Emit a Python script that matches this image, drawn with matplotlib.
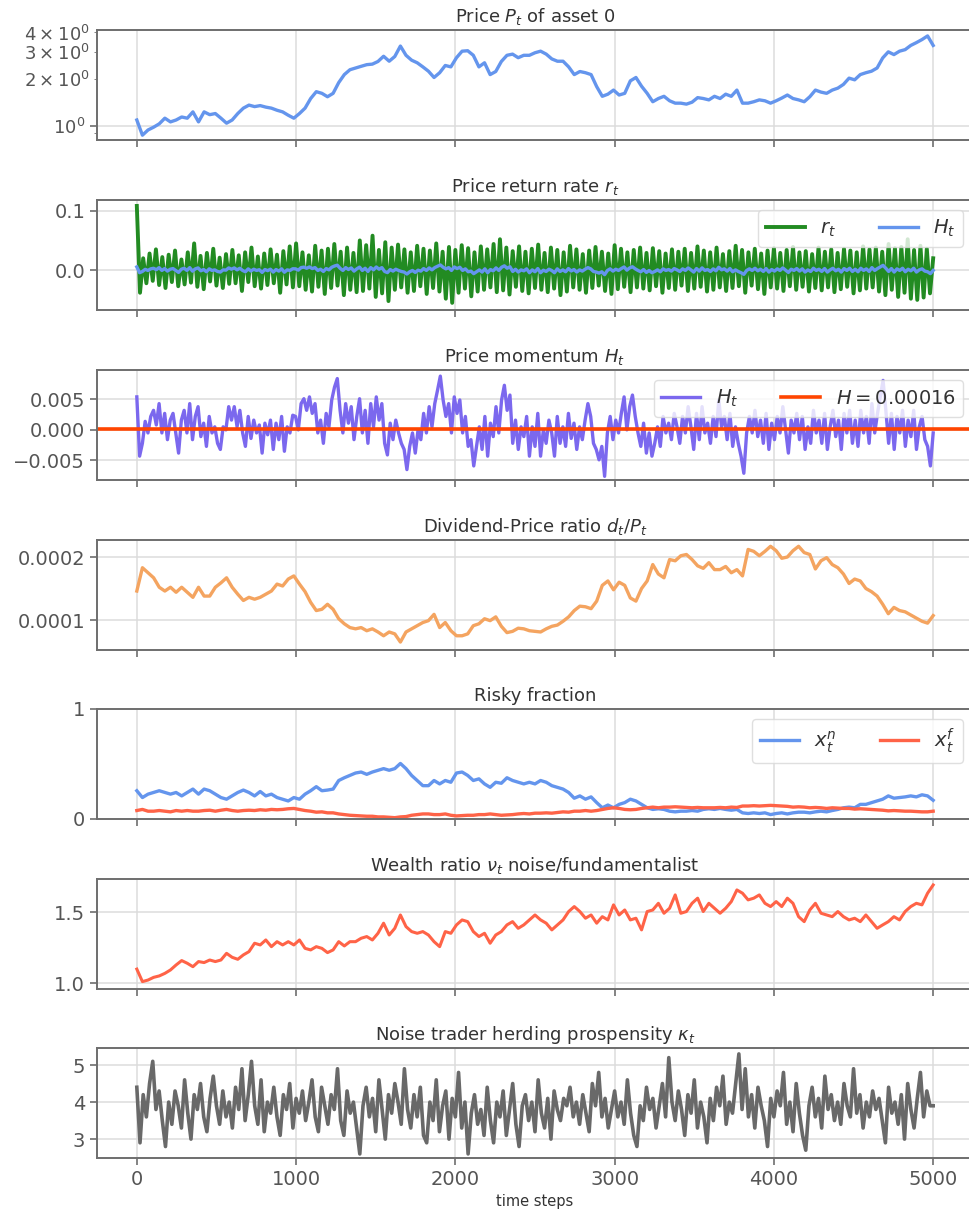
import numpy as np
import matplotlib
matplotlib.use("Agg")
import matplotlib.pyplot as plt
from matplotlib.ticker import FixedLocator

## DATA ##
# every series below is sampled evenly over 0..5000 time steps
t_end = 5000

# Price of asset 0 (log axis)
price = [1.09, 0.87, 0.94, 0.98, 1.03, 1.12, 1.06, 1.09, 1.14, 1.12,
         1.23, 1.06, 1.23, 1.18, 1.20, 1.12, 1.04, 1.09, 1.20, 1.30,
         1.36, 1.33, 1.35, 1.32, 1.30, 1.26, 1.23, 1.17, 1.12, 1.20,
         1.30, 1.50, 1.66, 1.62, 1.54, 1.62, 1.90, 2.14, 2.30, 2.36,
         2.42, 2.48, 2.50, 2.60, 2.81, 2.61, 2.80, 3.27, 2.85, 2.65,
         2.55, 2.40, 2.25, 2.05, 2.20, 2.45, 2.40, 2.75, 3.03, 3.05,
         2.85, 2.40, 2.55, 2.14, 2.24, 2.60, 2.85, 2.90, 2.75, 2.85,
         2.85, 2.96, 3.03, 2.90, 2.70, 2.61, 2.61, 2.40, 2.14, 2.24,
         2.20, 2.14, 1.79, 1.55, 1.60, 1.70, 1.58, 1.62, 1.95, 2.05,
         1.80, 1.62, 1.43, 1.50, 1.55, 1.45, 1.40, 1.40, 1.38, 1.42,
         1.52, 1.50, 1.47, 1.55, 1.50, 1.60, 1.55, 1.70, 1.40, 1.40,
         1.43, 1.47, 1.45, 1.40, 1.45, 1.51, 1.58, 1.50, 1.47, 1.43,
         1.54, 1.70, 1.65, 1.62, 1.70, 1.75, 1.85, 2.03, 1.98, 2.14,
         2.20, 2.25, 2.36, 2.74, 3.00, 2.88, 3.03, 3.10, 3.30, 3.44,
         3.60, 3.80, 3.30]

# Price return rate r_t (units of 0.001)
r_milli = [108, -38, 20, -22, 28, -18, 35, -25, 22, -30,
           26, -20, 33, -27, 18, -24, 30, -21, 45, -28,
           24, -32, 29, -19, 36, -26, 21, -30, 27, -23,
           34, -22, 25, -35, 30, -20, 38, -27, 23, -31,
           28, -25, 35, -22, 26, -38, 32, -24, 40, -29,
           45, -27, 30, -33, 25, -36, 41, -28, 33, -40,
           36, -30, 44, -26, 31, -42, 38, -33, 29, -37,
           50, -35, 42, -31, 58, -45, 34, -39, 47, -52,
           38, -33, 43, -29, 35, -38, 30, -35, 41, -27,
           36, -40, 33, -30, 45, -36, 31, -48, 39, -55,
           34, -38, 42, -31, 37, -44, 30, -36, 40, -33,
           35, -29, 44, -37, 52, -34, 38, -41, 32, -28,
           40, -35, 31, -39, 36, -30, 43, -33, 29, -37,
           38, -31, 34, -42, 30, -36, 41, -29, 35, -33,
           27, -38, 33, -30, 39, -26, 31, -35, 28, -40,
           42, -32, 36, -28, 30, -37, 34, -29, 38, -31,
           29, -34, 37, -27, 32, -38, 28, -30, 35, -33,
           31, -26, 36, -35, 29, -31, 40, -28, 33, -36,
           30, -33, 38, -29, 27, -35, 32, -30, 41, -27,
           34, -38, 30, -26, 36, -32, 28, -40, 33, -29,
           37, -31, 29, -35, 34, -27, 39, -33, 30, -28,
           32, -36, 27, -30, 38, -34, 31, -29, 35, -37,
           29, -32, 36, -28, 33, -39, 30, -34, 40, -31,
           35, -29, 38, -36, 31, -42, 44, -33, 37, -45,
           39, -38, 52, -48, 34, -50, 41, -46, 36, -39,
           20]

# Price momentum H_t (units of 1e-4)
H_e4 = [54, -43, -22, 14, -5, 22, 32, 8, 43, -5, 27, -16, 16, 27, -5, -38,
        16, 32, -5, 43, -16, 22, 38, -11, 11, -27, 22, -5, 5, -22, -32, 5,
        0, 38, 16, 38, 5, 32, -5, -27, 22, -14, 16, -5, 8, -38, 11, -8, 16,
        -32, 11, -16, 22, -35, 5, -5, 24, 22, 0, 43, 51, 32, 54, 27, 43, -5,
        16, -22, 27, 5, 49, 70, 84, 32, -5, 43, 11, 38, -16, 22, 51, -5, 32,
        -22, 43, 5, 54, 16, 43, -22, -41, 11, -16, 16, -5, -22, -32, -65,
        -27, -5, -38, 0, -16, 27, -5, 38, 5, 43, 65, 88, 49, 22, 43, -5, 54,
        27, 49, -5, 22, -27, -16, -59, -27, 5, -32, 22, -43, 11, -11, 38, -5,
        49, 73, 32, 57, -22, 16, -32, 5, -11, 22, -43, 5, -27, 27, -43, 0,
        -22, 16, -5, -43, 22, -22, 5, -27, 27, -14, 11, -32, 5, -16, 16, 43,
        22, -22, -32, -49, -27, -76, -5, 22, -16, 16, -5, 27, 54, 0, 38, 57,
        22, -5, -27, 11, -38, -5, -43, -22, 5, -27, 22, -5, 11, -16, 27, 5,
        -22, 22, -5, 38, 5, -32, 27, -16, 38, -5, 11, -22, 22, -11, 49, 5,
        22, -16, 27, -27, 5, -22, -43, -71, -5, 22, -5, 32, -11, 16, -22, 27,
        -32, 11, -16, 22, -5, 38, 0, -38, 16, -5, 27, -16, 22, -32, 5, -22,
        32, -5, 16, -22, 27, -32, 5, 32, -11, 16, -32, 27, -5, 32, -22, 16,
        -27, 32, -5, 22, -22, 43, -5, 27, 54, 81, 32, -22, 27, -32, 22, -5,
        32, -27, 16, -11, 32, -32, 5, 22, -16, -27, -59, -5]
H_mean = 0.00016

# Dividend-price ratio d_t/P_t (units of 1e-4)
dp_e4 = [1.46, 1.83, 1.75, 1.67, 1.52, 1.46, 1.52, 1.44, 1.52, 1.44,
         1.36, 1.52, 1.38, 1.38, 1.52, 1.59, 1.67, 1.52, 1.41, 1.31,
         1.36, 1.33, 1.36, 1.41, 1.46, 1.57, 1.54, 1.65, 1.70, 1.57,
         1.45, 1.28, 1.15, 1.17, 1.25, 1.17, 1.02, 0.94, 0.88, 0.86,
         0.88, 0.83, 0.86, 0.81, 0.75, 0.81, 0.78, 0.65, 0.81, 0.86,
         0.91, 0.96, 0.99, 1.09, 0.88, 0.96, 0.83, 0.75, 0.75, 0.78,
         0.91, 0.94, 1.02, 0.99, 1.05, 0.90, 0.80, 0.82, 0.87, 0.86,
         0.83, 0.82, 0.81, 0.86, 0.90, 0.92, 0.98, 1.05, 1.15, 1.22,
         1.21, 1.18, 1.30, 1.55, 1.62, 1.48, 1.60, 1.55, 1.35, 1.30,
         1.50, 1.62, 1.88, 1.73, 1.67, 1.96, 1.94, 2.02, 2.04, 1.96,
         1.86, 1.82, 1.91, 1.80, 1.80, 1.85, 1.75, 1.80, 1.70, 2.12,
         2.09, 2.02, 2.09, 2.17, 2.10, 1.98, 2.00, 2.10, 2.17, 2.07,
         2.04, 1.81, 1.94, 1.99, 1.88, 1.83, 1.73, 1.58, 1.65, 1.62,
         1.50, 1.45, 1.38, 1.25, 1.10, 1.20, 1.15, 1.13, 1.08, 1.03,
         0.98, 0.95, 1.07]

# Risky fraction of noise traders (x^n) and fundamentalists (x^f)
x_noise = [0.257, 0.195, 0.226, 0.241, 0.257, 0.241, 0.226, 0.241, 0.21, 0.241,
           0.272, 0.226, 0.272, 0.257, 0.226, 0.195, 0.18, 0.21, 0.241, 0.263,
           0.241, 0.21, 0.25, 0.21, 0.226, 0.195, 0.18, 0.164, 0.195, 0.18,
           0.226, 0.257, 0.294, 0.257, 0.263, 0.272, 0.35, 0.375, 0.396, 0.418,
           0.427, 0.406, 0.427, 0.443, 0.458, 0.443, 0.458, 0.505, 0.458, 0.396,
           0.35, 0.303, 0.303, 0.35, 0.319, 0.35, 0.334, 0.418, 0.427, 0.396,
           0.35, 0.365, 0.319, 0.288, 0.334, 0.325, 0.375, 0.35, 0.334, 0.319,
           0.334, 0.319, 0.35, 0.334, 0.303, 0.288, 0.272, 0.241, 0.189, 0.21,
           0.18, 0.201, 0.149, 0.102, 0.127, 0.102, 0.133, 0.149, 0.18, 0.164,
           0.133, 0.102, 0.087, 0.093, 0.087, 0.071, 0.065, 0.071, 0.071, 0.077,
           0.071, 0.087, 0.093, 0.087, 0.096, 0.087, 0.08, 0.087, 0.056, 0.05,
           0.056, 0.05, 0.056, 0.04, 0.05, 0.056, 0.046, 0.056, 0.062, 0.062,
           0.056, 0.065, 0.071, 0.065, 0.077, 0.087, 0.102, 0.108, 0.102, 0.133,
           0.133, 0.149, 0.164, 0.18, 0.21, 0.189, 0.195, 0.201, 0.21, 0.201,
           0.22, 0.21, 0.17]
x_fund = [0.077, 0.087, 0.071, 0.071, 0.077, 0.071, 0.065, 0.077, 0.071, 0.077,
          0.071, 0.071, 0.077, 0.08, 0.071, 0.08, 0.087, 0.077, 0.071, 0.077,
          0.08, 0.077, 0.084, 0.08, 0.087, 0.084, 0.087, 0.093, 0.096, 0.087,
          0.077, 0.071, 0.062, 0.065, 0.056, 0.056, 0.046, 0.04, 0.034, 0.031,
          0.028, 0.025, 0.025, 0.019, 0.019, 0.015, 0.012, 0.019, 0.022, 0.034,
          0.04, 0.046, 0.046, 0.04, 0.04, 0.046, 0.034, 0.028, 0.031, 0.034,
          0.034, 0.04, 0.04, 0.046, 0.04, 0.034, 0.037, 0.04, 0.046, 0.05,
          0.046, 0.053, 0.053, 0.056, 0.053, 0.059, 0.065, 0.062, 0.071, 0.071,
          0.077, 0.071, 0.077, 0.087, 0.096, 0.102, 0.096, 0.087, 0.084, 0.087,
          0.096, 0.102, 0.108, 0.102, 0.108, 0.108, 0.111, 0.108, 0.105, 0.102,
          0.105, 0.102, 0.102, 0.102, 0.105, 0.102, 0.108, 0.105, 0.118, 0.118,
          0.121, 0.118, 0.121, 0.124, 0.121, 0.118, 0.115, 0.108, 0.111, 0.108,
          0.102, 0.105, 0.102, 0.096, 0.102, 0.099, 0.096, 0.096, 0.09, 0.093,
          0.09, 0.087, 0.084, 0.08, 0.074, 0.077, 0.074, 0.071, 0.071, 0.068,
          0.065, 0.065, 0.071]

# Wealth ratio nu_t
wealth = [1.10, 1.012, 1.023, 1.042, 1.052, 1.07, 1.094, 1.129, 1.16, 1.141,
          1.117, 1.153, 1.146, 1.164, 1.153, 1.164, 1.211, 1.183, 1.169, 1.2,
          1.223, 1.282, 1.27, 1.305, 1.258, 1.293, 1.27, 1.293, 1.27, 1.305,
          1.246, 1.235, 1.258, 1.246, 1.216, 1.235, 1.293, 1.263, 1.293, 1.293,
          1.317, 1.329, 1.305, 1.352, 1.423, 1.34, 1.387, 1.481, 1.399, 1.364,
          1.352, 1.364, 1.34, 1.293, 1.258, 1.364, 1.352, 1.411, 1.446, 1.434,
          1.364, 1.329, 1.352, 1.282, 1.34, 1.364, 1.411, 1.434, 1.387, 1.411,
          1.446, 1.481, 1.446, 1.423, 1.376, 1.411, 1.446, 1.505, 1.54, 1.505,
          1.458, 1.481, 1.423, 1.469, 1.446, 1.552, 1.481, 1.516, 1.446, 1.458,
          1.376, 1.505, 1.516, 1.563, 1.493, 1.528, 1.622, 1.493, 1.505, 1.563,
          1.599, 1.505, 1.563, 1.528, 1.493, 1.528, 1.575, 1.657, 1.634, 1.587,
          1.599, 1.622, 1.563, 1.54, 1.575, 1.54, 1.599, 1.563, 1.469, 1.434,
          1.516, 1.563, 1.493, 1.481, 1.469, 1.505, 1.469, 1.446, 1.458, 1.434,
          1.481, 1.434, 1.387, 1.411, 1.434, 1.469, 1.446, 1.505, 1.54, 1.563,
          1.552, 1.634, 1.692]

# Noise trader herding propensity kappa_t
kappa = [4.4, 2.9, 4.2, 3.6, 4.5, 5.1, 3.8, 4.3, 3.5, 2.8,
         4.0, 3.4, 4.3, 3.9, 3.3, 4.6, 3.7, 3.0, 4.2, 3.8,
         4.5, 3.6, 3.2, 4.1, 4.7, 3.9, 3.4, 4.3, 3.6, 4.0,
         3.3, 4.4, 3.8, 4.9, 3.5, 4.2, 5.1, 3.9, 3.4, 4.6,
         3.2, 4.0, 3.7, 4.4, 3.6, 3.1, 4.2, 3.8, 4.5, 3.3,
         4.1, 3.7, 4.3, 3.5, 4.0, 4.6, 3.6, 3.2, 4.4, 3.9,
         3.4, 4.2, 3.8, 4.9, 3.5, 3.1, 4.3, 3.7, 4.0, 3.3,
         2.6, 3.9, 4.4, 3.6, 4.1, 3.2, 4.6, 3.8, 3.0, 4.2,
         3.7, 4.5, 4.0, 3.4, 4.9, 3.8, 3.3, 4.2, 3.6, 4.4,
         3.1, 2.9, 4.0, 3.5, 4.6, 3.2, 3.9, 4.3, 3.0, 4.1,
         3.6, 4.8, 3.3, 4.0, 2.6, 3.7, 4.2, 3.4, 3.8, 3.1,
         4.4, 3.5, 2.9, 4.0, 3.6, 4.3, 3.1, 3.8, 4.5, 3.4,
         2.8, 3.9, 4.2, 3.5, 4.0, 3.2, 4.6, 3.7, 3.3, 4.1,
         3.0, 4.3, 3.8, 3.5, 4.1, 3.9, 4.4, 3.6, 4.0, 3.4,
         4.2, 3.7, 3.2, 4.5, 3.9, 4.8, 3.6, 4.1, 3.3, 3.8,
         4.3, 3.6, 4.0, 3.4, 4.6, 3.7, 3.1, 2.8, 3.9, 3.5,
         4.4, 3.8, 4.1, 3.3, 3.9, 4.5, 3.6, 5.2, 4.0, 3.5,
         4.3, 3.8, 3.1, 4.2, 3.7, 4.6, 3.3, 4.0, 3.6, 2.9,
         4.1, 3.5, 4.4, 3.9, 4.7, 3.4, 4.0, 3.7, 4.5, 5.3,
         3.8, 4.9, 3.6, 4.2, 3.3, 4.4, 3.9, 3.5, 2.8, 4.1,
         3.6, 4.3, 3.9, 4.8, 3.4, 4.0, 3.2, 4.5, 3.7, 3.1,
         2.7, 3.9, 4.4, 3.6, 4.1, 3.3, 4.7, 3.8, 4.2, 3.5,
         4.0, 3.4, 4.5, 3.9, 3.6, 4.9, 3.7, 4.2, 3.3, 4.0,
         3.6, 4.3, 3.8, 4.1, 3.5, 2.9, 4.4, 3.7, 4.0, 3.4,
         4.2, 3.0, 4.5, 3.8, 3.3, 4.1, 4.8, 3.6, 4.3, 3.9,
         3.9]

x_ticks = [0, 1000, 2000, 3000, 4000, 5000]


def steps(vals):
    return np.linspace(0, t_end, len(vals))


#############################
#          STYLE            #
#############################
text_grey = "#555555"
plt.rcParams.update({
    "font.family": "DejaVu Sans",
    "axes.edgecolor": "#6e6e6e",
    "axes.linewidth": 1.4,
    "axes.grid": True,
    "grid.color": "#dcdcdc",
    "grid.linewidth": 1.1,
    "axes.titlesize": 13,
    "axes.titlecolor": "#333333",
    "xtick.color": "#6e6e6e",
    "ytick.color": "#6e6e6e",
    "xtick.labelcolor": text_grey,
    "ytick.labelcolor": text_grey,
    "xtick.labelsize": 14,
    "ytick.labelsize": 14,
    "xtick.major.size": 5,
    "ytick.major.size": 5,
    "xtick.major.width": 1.2,
    "ytick.major.width": 1.2,
    "legend.fontsize": 14,
    "legend.edgecolor": "#d8d8d8",
    "legend.labelcolor": "#333333",
    "axes.labelcolor": "#333333",
})

W, H = 969, 1219
fig = plt.figure(figsize=(W / 100, H / 100), dpi=100)
tops = [30, 200, 370, 540, 709, 879, 1048]
axes = []
for top in tops:
    ax = fig.add_axes([97 / W, 1 - (top + 110) / H, 876 / W, 110 / H],
                      sharex=axes[0] if axes else None)
    ax.set_axisbelow(True)
    axes.append(ax)

# 1. price
ax = axes[0]
ax.plot(steps(price), price, color="cornflowerblue", lw=2.4)
ax.set_yscale("log")
ax.set_ylim(0.81, 4.15)
ax.tick_params(axis="y", which="both", labelsize=13)
ax.set_title("Price $P_t$ of asset 0")

# 2. return rate
ax = axes[1]
ax.plot(steps(r_milli), np.array(r_milli) / 1000, color="forestgreen", lw=2.8, label="$r_t$")
ax.plot(steps(H_e4), np.array(H_e4) / 1e4, color="cornflowerblue", lw=2.4, label="$H_t$")
ax.set_ylim(-0.067, 0.118)
ax.yaxis.set_major_locator(FixedLocator([0.0, 0.1]))
ax.legend(loc="upper right", ncol=2, columnspacing=2.2)
ax.set_title("Price return rate $r_t$")

# 3. momentum
ax = axes[2]
ax.plot(steps(H_e4), np.array(H_e4) / 1e4, color="mediumslateblue", lw=2.4, label="$H_t$")
ax.axhline(H_mean, color="orangered", lw=2.6, label="$H = 0.00016$")
ax.set_ylim(-0.0082, 0.0098)
ax.yaxis.set_major_locator(FixedLocator([-0.005, 0.0, 0.005]))
ax.legend(loc="upper right", ncol=2, columnspacing=2.2)
ax.set_title("Price momentum $H_t$")

# 4. dividend-price ratio
ax = axes[3]
ax.plot(steps(dp_e4), np.array(dp_e4) / 1e4, color="sandybrown", lw=2.4)
ax.set_ylim(0.0000524, 0.000227)
ax.yaxis.set_major_locator(FixedLocator([0.0001, 0.0002]))
ax.set_title("Dividend-Price ratio $d_t/P_t$")

# 5. risky fraction
ax = axes[4]
ax.plot(steps(x_noise), x_noise, color="cornflowerblue", lw=2.4, label="$x^n_t$")
ax.plot(steps(x_fund), x_fund, color="tomato", lw=2.4, label="$x^f_t$")
ax.set_ylim(0, 1)
ax.yaxis.set_major_locator(FixedLocator([0, 1]))
ax.legend(loc="upper right", ncol=2, columnspacing=2.2)
ax.set_title("Risky fraction")

# 6. wealth ratio
ax = axes[5]
ax.plot(steps(wealth), wealth, color="tomato", lw=2.2)
ax.set_ylim(0.96, 1.734)
ax.yaxis.set_major_locator(FixedLocator([1.0, 1.5]))
ax.set_title(r"Wealth ratio $\nu_t$ noise/fundamentalist")

# 7. herding propensity
ax = axes[6]
ax.plot(steps(kappa), kappa, color="dimgray", lw=2.6)
ax.set_ylim(2.49, 5.46)
ax.yaxis.set_major_locator(FixedLocator([3, 4, 5]))
ax.set_title(r"Noise trader herding prospensity $\kappa_t$")
ax.set_xlabel("time steps", fontsize=10.5)

axes[0].set_xlim(-250, 5250)
axes[0].set_xticks(x_ticks)
for ax in axes[:-1]:
    ax.tick_params(labelbottom=False)

fig.savefig("out.png", dpi=100)
